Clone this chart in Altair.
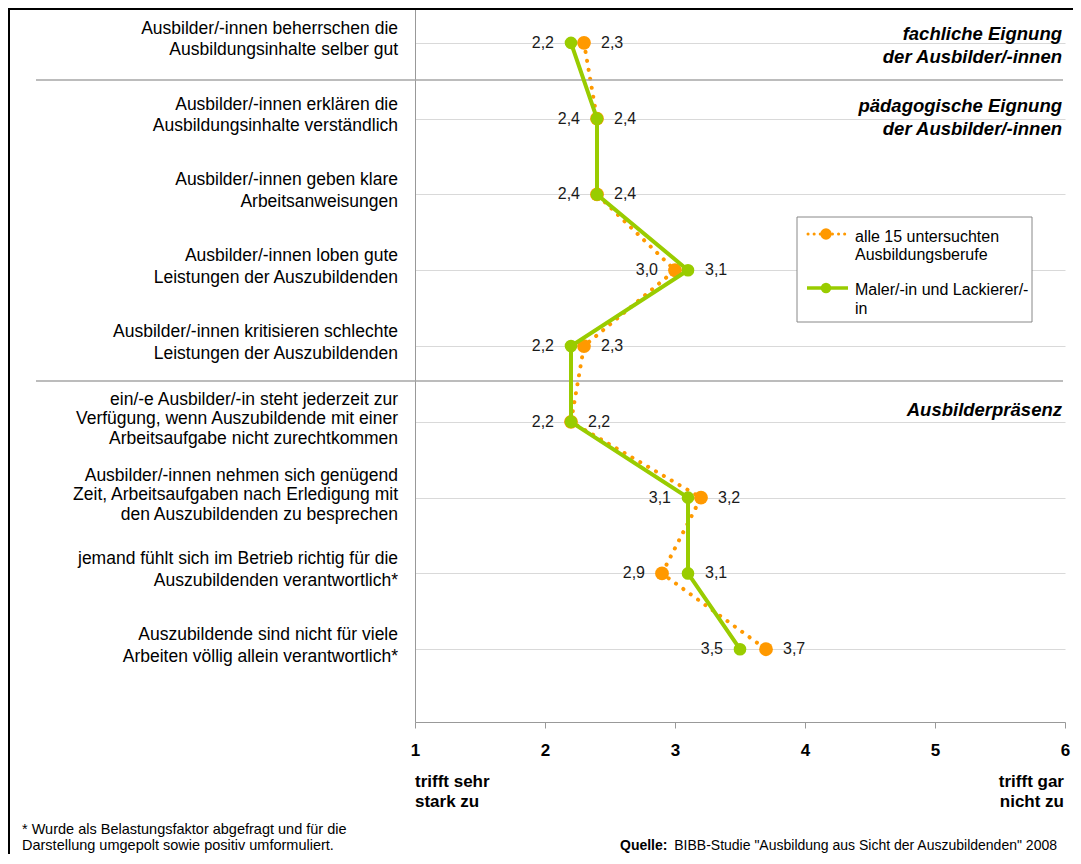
import altair as alt
import pandas as pd

# ---------------- data ----------------
categories = [
    "Ausbilder/-innen beherrschen die\nAusbildungsinhalte selber gut",
    "Ausbilder/-innen erklären die\nAusbildungsinhalte verständlich",
    "Ausbilder/-innen geben klare\nArbeitsanweisungen",
    "Ausbilder/-innen loben gute\nLeistungen der Auszubildenden",
    "Ausbilder/-innen kritisieren schlechte\nLeistungen der Auszubildenden",
    "ein/-e Ausbilder/-in steht jederzeit zur\nVerfügung, wenn Auszubildende mit einer\nArbeitsaufgabe nicht zurechtkommen",
    "Ausbilder/-innen nehmen sich genügend\nZeit, Arbeitsaufgaben nach Erledigung mit\nden Auszubildenden zu besprechen",
    "jemand fühlt sich im Betrieb richtig für die\nAuszubildenden verantwortlich*",
    "Auszubildende sind nicht für viele\nArbeiten völlig allein verantwortlich*",
]
alle_berufe = [2.3, 2.4, 2.4, 3.0, 2.3, 2.2, 3.2, 2.9, 3.7]
maler = [2.2, 2.4, 2.4, 3.1, 2.2, 2.2, 3.1, 3.1, 3.5]
x_ticks = [1, 2, 3, 4, 5, 6]
section_breaks = [1.49, 5.46]
section_titles = [
    ["fachliche Eignung", "der Ausbilder/-innen"],
    ["pädagogische Eignung", "der Ausbilder/-innen"],
    ["Ausbilderpräsenz"],
]
legend_labels = [["alle 15 untersuchten", "Ausbildungsberufe"],
                 ["Maler/-in und Lackierer/-", "in"]]
scale_low = ["trifft sehr", "stark zu"]
scale_high = ["trifft gar", "nicht zu"]
footnote = ["* Wurde als Belastungsfaktor abgefragt und für die",
            "Darstellung umgepolt sowie positiv umformuliert."]
source_bold = "Quelle:"
source_text = 'BIBB-Studie "Ausbildung aus Sicht der Auszubildenden" 2008'

FONT = "Liberation Sans"
ORANGE = "#FF9900"
GREEN = "#99CC00"

rows = list(range(1, len(categories) + 1))
df = pd.DataFrame({"row": rows, "label": categories,
                   "nlines": [c.count("\n") + 1 for c in categories]})

recs = []
for r, a, m in zip(rows, alle_berufe, maler):
    recs.append({"row": r, "series": "alle", "value": a,
                 "side": "right" if a >= m else "left",
                 "txt": f"{a:.1f}".replace(".", ",")})
    recs.append({"row": r, "series": "maler", "value": m,
                 "side": "left" if m <= a else "right",
                 "txt": f"{m:.1f}".replace(".", ",")})
ldf = pd.DataFrame(recs)
one = pd.DataFrame({"a": [0]})

x_enc = alt.X("value:Q",
              scale=alt.Scale(domain=[1, 6], nice=False, zero=False),
              axis=alt.Axis(values=x_ticks, format="d", title=None, grid=False,
                            labelFont=FONT, labelFontSize=17, labelFontWeight="bold",
                            labelColor="#000", labelPadding=14, tickSize=6,
                            tickColor="#999", domainColor="#999", labelFlush=False))
y_enc = alt.Y("row:Q",
              scale=alt.Scale(domain=[0.54, 9.96], reverse=True, nice=False, zero=False),
              axis=alt.Axis(values=rows, title=None, labels=False, ticks=False,
                            grid=True, gridColor="#d9d9d9", domainColor="#999"))

base = alt.Chart(ldf)

orange_line = base.transform_filter("datum.series == 'alle'").mark_line(
    color=ORANGE, strokeWidth=4, strokeDash=[0.1, 9], strokeCap="round"
).encode(x=x_enc, y=y_enc, order="row:Q")
orange_pts = base.transform_filter("datum.series == 'alle'").mark_circle(
    color=ORANGE, size=190, opacity=1).encode(x="value:Q", y="row:Q")
green_line = base.transform_filter("datum.series == 'maler'").mark_line(
    color=GREEN, strokeWidth=4).encode(x="value:Q", y="row:Q", order="row:Q")
green_pts = base.transform_filter("datum.series == 'maler'").mark_circle(
    color=GREEN, size=160, opacity=1).encode(x="value:Q", y="row:Q")

lbl_left = base.transform_filter("datum.side == 'left'").mark_text(
    align="right", baseline="middle", dx=-17, font=FONT, fontSize=16, color="#1a1a1a"
).encode(x="value:Q", y="row:Q", text="txt:N")
lbl_right = base.transform_filter("datum.side == 'right'").mark_text(
    align="left", baseline="middle", dx=17, font=FONT, fontSize=16, color="#1a1a1a"
).encode(x="value:Q", y="row:Q", text="txt:N")

cat_labels2 = alt.Chart(df).transform_filter("datum.nlines == 2").mark_text(
    align="right", baseline="middle", dy=-14, lineBreak="\n", lineHeight=21.5,
    font=FONT, fontSize=17.5, color="#000"
).encode(x=alt.value(-17), y="row:Q", text="label:N")
cat_labels3 = alt.Chart(df).transform_filter("datum.nlines == 3").mark_text(
    align="right", baseline="middle", dy=-22, lineBreak="\n", lineHeight=19.5,
    font=FONT, fontSize=17.5, color="#000"
).encode(x=alt.value(-17), y="row:Q", text="label:N")

separators = alt.Chart(pd.DataFrame({"row": section_breaks})).mark_rule(
    color="#a6a6a6", strokeWidth=1.5
).encode(x=alt.value(-379), x2=alt.value(648), y="row:Q")


def text_at(lines, x, y, align="left", size=15, weight="normal", style="normal",
            lh=20, color="#000"):
    # y is the position of the first line
    return alt.Chart(one).mark_text(
        text=lines, align=align, baseline="middle", font=FONT, fontSize=size,
        fontWeight=weight, fontStyle=style, lineHeight=lh, color=color
    ).encode(x=alt.value(x), y=alt.value(y))


titles = [
    text_at(section_titles[0], 647, 26, align="right", size=18.5, weight="bold", style="italic", lh=23),
    text_at(section_titles[1], 647, 98, align="right", size=18.5, weight="bold", style="italic", lh=23),
    text_at(section_titles[2], 647, 402, align="right", size=18.5, weight="bold", style="italic", lh=23),
]

legend_box = alt.Chart(one).mark_rect(fill="white", stroke="#888", strokeWidth=1).encode(
    x=alt.value(382), x2=alt.value(617), y=alt.value(209), y2=alt.value(314))
leg_o_line = alt.Chart(one).mark_rule(color=ORANGE, strokeWidth=3, strokeDash=[0.1, 6],
                                      strokeCap="round").encode(
    x=alt.value(393), x2=alt.value(433), y=alt.value(226))
leg_o_pt = alt.Chart(one).mark_circle(color=ORANGE, size=130, opacity=1).encode(
    x=alt.value(411), y=alt.value(226))
leg_g_line = alt.Chart(one).mark_rule(color=GREEN, strokeWidth=3.5).encode(
    x=alt.value(392), x2=alt.value(433), y=alt.value(280))
leg_g_pt = alt.Chart(one).mark_circle(color=GREEN, size=110, opacity=1).encode(
    x=alt.value(411), y=alt.value(280))
leg_t1 = text_at(legend_labels[0], 440, 229, size=16, lh=17.5)
leg_t2 = text_at(legend_labels[1], 440, 282, size=16, lh=18.5)

low_t = text_at(scale_low, 0, 774, size=17, weight="bold", lh=20)
high_t = text_at(scale_high, 649, 774, align="right", size=17, weight="bold", lh=20)
foot_t = text_at(footnote, -393, 822, size=14.5, lh=16)
src_b = text_at([source_bold], 205, 838, size=14, weight="bold")
src_t = text_at([source_text], 642, 838, align="right", size=14)

border_top = alt.Chart(one).mark_rule(color="#000", strokeWidth=4).encode(
    x=alt.value(-407), x2=alt.value(658), y=alt.value(0))
border_left = alt.Chart(one).mark_rule(color="#000", strokeWidth=4).encode(
    x=alt.value(-407), y=alt.value(0), y2=alt.value(846))

chart = alt.layer(
    orange_line, separators, orange_pts, green_line, green_pts,
    lbl_left, lbl_right, cat_labels2, cat_labels3, *titles,
    legend_box, leg_o_line, leg_o_pt, leg_g_line, leg_g_pt, leg_t1, leg_t2,
    low_t, high_t, foot_t, src_b, src_t, border_top, border_left,
).properties(
    width=650, height=714,
    padding={"left": 407, "top": 0, "right": 8, "bottom": 132},
    autosize=alt.AutoSizeParams(type="none"),
    background="white",
).configure_view(stroke=None)

chart.save("out.html", embed_options={"renderer": "svg", "actions": False})
